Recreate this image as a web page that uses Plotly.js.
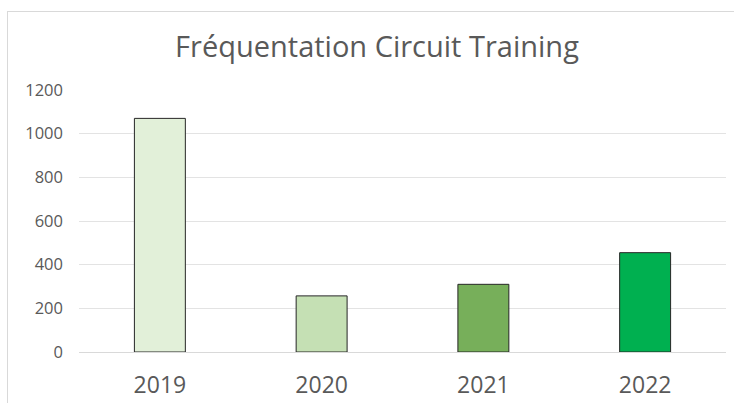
<!DOCTYPE html>
<html>
<head>
<meta charset="utf-8">
<script src="https://cdn.plot.ly/plotly-3.0.1.min.js"></script>
<style>
  body { margin: 0; background: #fff; }
  #wrap { position: relative; width: 734px; height: 403px; overflow: hidden; }
  #cadre { position: absolute; left: 7px; top: 11px; width: 800px; height: 500px;
           border-left: 1px solid #d9d9d9; border-top: 1px solid #d9d9d9; }
  #graphique { position: absolute; left: 0; top: 0; width: 734px; height: 403px; }
</style>
</head>
<body>
<div id="wrap">
  <div id="cadre"></div>
  <div id="graphique"></div>
</div>
<script>
// données
const annees = ['2019', '2020', '2021', '2022'];
const frequentation = [1070, 257, 310, 455];
const couleurs = ['#E2F0D9', '#C5E0B4', '#77AF5A', '#00B050'];
const graduations = [0, 200, 400, 600, 800, 1000, 1200];

const trace = {
  x: annees,
  y: frequentation,
  type: 'bar',
  marker: {
    color: couleurs,
    line: { color: '#262626', width: 1 }
  },
  hoverinfo: 'x+y'
};

const layout = {
  width: 734,
  height: 403,
  paper_bgcolor: 'rgba(0,0,0,0)',
  plot_bgcolor: 'rgba(0,0,0,0)',
  margin: { l: 78.5, r: 8, t: 90, b: 51 },
  bargap: 0.685,
  showlegend: false,
  font: { family: 'Open Sans, sans-serif', color: '#595959' },
  title: {
    text: 'Fréquentation Circuit Training',
    font: { size: 29, color: '#595959', family: 'Open Sans, sans-serif' },
    xref: 'container', x: 377 / 734, xanchor: 'center',
    yref: 'container', y: 1 - 47 / 403, yanchor: 'middle'
  },
  xaxis: {
    type: 'category',
    showgrid: false,
    showline: false,
    ticks: '',
    ticklabelstandoff: 17,
    tickfont: { size: 23, color: '#595959' }
  },
  yaxis: {
    range: [0, 1200],
    tickvals: graduations,
    ticktext: graduations.map(String),
    showgrid: true,
    gridcolor: '#e3e3e3',
    gridwidth: 1,
    zeroline: true,
    zerolinecolor: '#d9d9d9',
    zerolinewidth: 1,
    showline: false,
    ticks: '',
    ticklabelstandoff: 15,
    tickfont: { size: 16.5, color: '#595959' }
  }
};

Plotly.newPlot('graphique', [trace], layout, { displayModeBar: false, staticPlot: true });
</script>
</body>
</html>
